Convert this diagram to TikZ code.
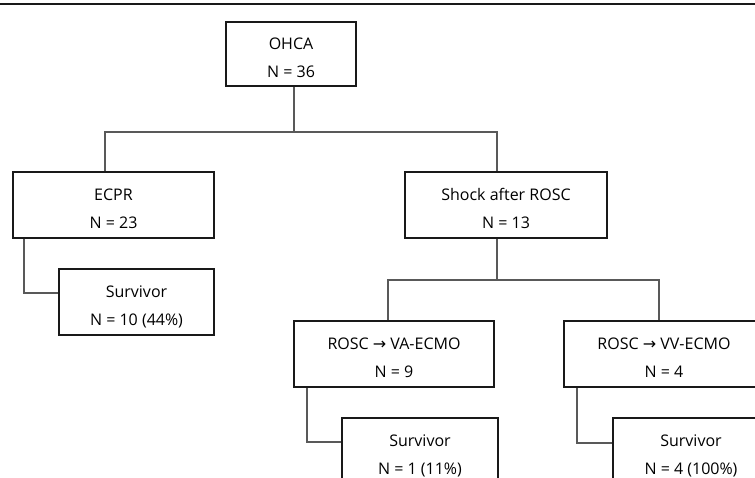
\documentclass[tikz,border=0pt]{standalone}
\usepackage{fontspec}
\setmainfont{Open Sans}
\newfontfamily\arrowfont{DejaVu Sans}
\newcommand{\rarr}{{\arrowfont\symbol{"2192}}}
\begin{document}
\begin{tikzpicture}[x=1pt,y=-1pt,
  box/.style={draw=black!90, line width=1.1pt, minimum height=66pt, align=center,
    font=\fontsize{16}{28}\selectfont, inner sep=0pt, text height=46pt, text depth=0pt},
  conn/.style={draw=black!65, line width=1.1pt},
  rule/.style={draw=black!90, line width=2.2pt}]
\useasboundingbox (0,0) rectangle (755,477);
\clip (0,0) rectangle (755,477);
\draw[rule] (0,4) -- (755,4);
% boxes
\node[box, minimum width=130pt, minimum height=64pt] (ohca) at (291,54) {OHCA\\N = 36};
\node[box, minimum width=201pt] (ecpr) at (113.5,205) {ECPR\\N = 23};
\node[box, minimum width=202pt] (shock) at (506,205) {Shock after ROSC\\N = 13};
\node[box, minimum width=155pt] (s1) at (136.5,302) {Survivor\\N = 10 (44\%)};
\node[box, minimum width=200pt] (va) at (394,354) {ROSC \rarr{} VA-ECMO\\N = 9};
\node[box, minimum width=200pt] (vv) at (664,354) {ROSC \rarr{} VV-ECMO\\N = 4};
\node[box, minimum width=156pt] (s2) at (420,451) {Survivor\\N = 1 (11\%)};
\node[box, minimum width=156pt] (s3) at (691,451) {Survivor\\N = 4 (100\%)};
% junctions
\coordinate (j0) at (294,132);
\coordinate (jl) at (105,132);
\coordinate (jr) at (497,132);
\coordinate (k0) at (497,280);
\coordinate (k1) at (388,280);
\coordinate (k2) at (659,280);
\coordinate (e1) at (24,293);
\coordinate (e2) at (307,442);
\coordinate (e3) at (577,443);
% connectors
\draw[conn] (ohca.south -| j0) -- (j0);
\draw[conn] (ecpr.north -| jl) -- (jl) -- (jr) -- (shock.north -| jr);
\draw[conn] (shock.south -| k0) -- (k0);
\draw[conn] (va.north -| k1) -- (k1) -- (k2) -- (vv.north -| k2);
\draw[conn] (ecpr.south -| e1) -- (e1) -- (s1.west |- e1);
\draw[conn] (va.south -| e2) -- (e2) -- (s2.west |- e2);
\draw[conn] (vv.south -| e3) -- (e3) -- (s3.west |- e3);
\end{tikzpicture}
\end{document}
